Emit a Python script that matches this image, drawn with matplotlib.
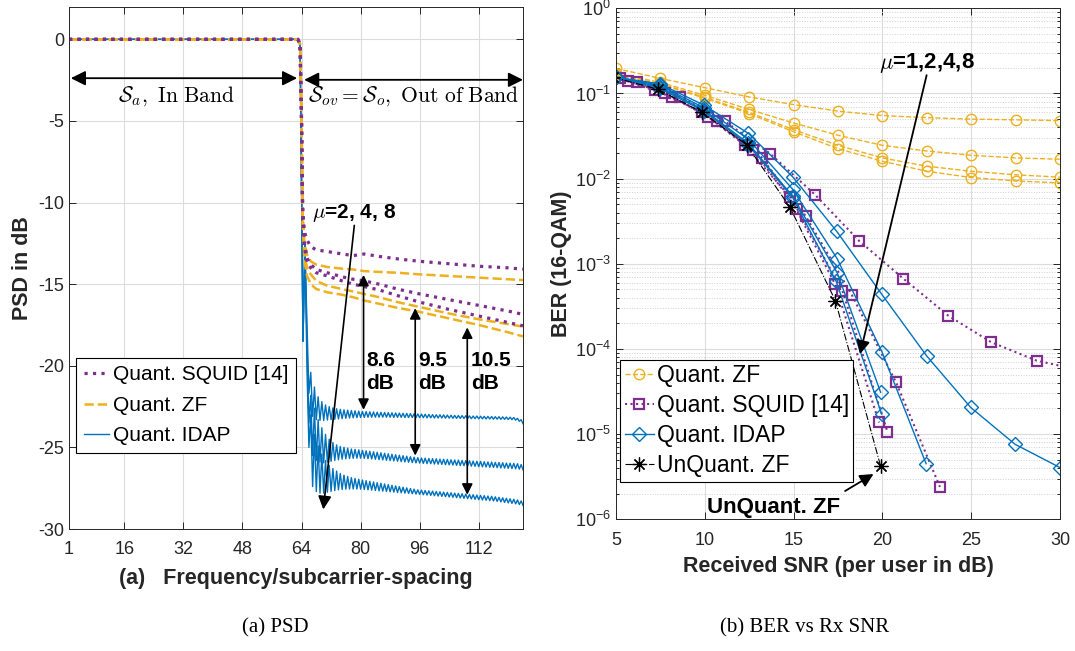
import matplotlib
matplotlib.use("Agg")
import matplotlib.pyplot as plt
import numpy as np

plt.rcParams["font.family"] = ["Liberation Sans", "DejaVu Sans"]
plt.rcParams["mathtext.fontset"] = "custom"
plt.rcParams["mathtext.rm"] = "Liberation Sans"
plt.rcParams["mathtext.it"] = "Liberation Sans:italic"
plt.rcParams["mathtext.bf"] = "Liberation Sans:bold"
plt.rcParams["axes.unicode_minus"] = False

BLUE, ORANGE, PURPLE, AXC = "#0072BD", "#EDB120", "#7E2F8E", "#262626"

# ---------------- (a) PSD data ----------------
# shared in-band / roll-off part of the IDAP curves
idap_head_x = [1, 63, 63.6, 64.0, 64.4, 64.9]
idap_head_y = [0, 0, -0.2, -9.0, -18.5, -12.5]
# ripple: peaks at x = 65.5, 66.5, ..., 123.5 ; troughs at x = 66, 67, ..., 124
idap_peak = {
    2: [-17.6, -20.4, -21.3, -21.9, -22.2, -22.4, -22.5, -22.58, -22.63, -22.67,
        -22.7, -22.72, -22.74, -22.76, -22.78, -22.8, -22.81, -22.82, -22.83, -22.84,
        -22.85, -22.86, -22.87, -22.88, -22.89, -22.9, -22.91, -22.92, -22.93, -22.94,
        -22.95, -22.96, -22.97, -22.98, -22.99, -23.0, -23.0, -23.01, -23.02, -23.03,
        -23.04, -23.05, -23.05, -23.06, -23.07, -23.08, -23.08, -23.09, -23.1, -23.1,
        -23.11, -23.12, -23.12, -23.13, -23.14, -23.15, -23.17, -23.22, -23.3],
    4: [-19.0, -21.8, -22.6, -23.3, -23.8, -24.2, -24.5, -24.7, -24.85, -24.95,
        -25.0, -25.05, -25.1, -25.12, -25.15, -25.18, -25.21, -25.24, -25.27, -25.3,
        -25.33, -25.36, -25.39, -25.42, -25.45, -25.48, -25.51, -25.54, -25.57, -25.6,
        -25.63, -25.65, -25.66, -25.68, -25.69, -25.7, -25.72, -25.73, -25.74, -25.76,
        -25.77, -25.78, -25.8, -25.81, -25.82, -25.84, -25.85, -25.86, -25.88, -25.89,
        -25.9, -25.92, -25.93, -25.94, -25.96, -25.97, -25.98, -26.0, -26.05],
    8: [-20.5, -23.0, -24.2, -24.9, -25.4, -25.8, -26.1, -26.3, -26.45, -26.6,
        -26.7, -26.78, -26.85, -26.9, -26.95, -27.0, -27.04, -27.08, -27.12, -27.16,
        -27.2, -27.24, -27.28, -27.32, -27.36, -27.4, -27.44, -27.48, -27.52, -27.56,
        -27.6, -27.62, -27.64, -27.66, -27.68, -27.7, -27.72, -27.74, -27.76, -27.78,
        -27.8, -27.82, -27.84, -27.86, -27.88, -27.9, -27.92, -27.94, -27.96, -27.98,
        -28.0, -28.03, -28.06, -28.09, -28.12, -28.15, -28.18, -28.22, -28.28],
}
idap_trough = {
    2: [-21.7, -23.1, -23.3, -23.35, -23.35, -23.32, -23.3, -23.28, -23.26, -23.24,
        -23.22, -23.2, -23.19, -23.18, -23.17, -23.16, -23.15, -23.15, -23.15, -23.15,
        -23.15, -23.15, -23.15, -23.16, -23.16, -23.16, -23.17, -23.17, -23.17, -23.18,
        -23.18, -23.18, -23.19, -23.19, -23.2, -23.2, -23.2, -23.21, -23.21, -23.22,
        -23.22, -23.22, -23.23, -23.23, -23.24, -23.24, -23.25, -23.25, -23.26, -23.26,
        -23.27, -23.27, -23.28, -23.28, -23.29, -23.3, -23.33, -23.4, -23.55],
    4: [-23.5, -25.5, -25.8, -25.9, -25.95, -25.9, -25.85, -25.8, -25.76, -25.72,
        -25.7, -25.68, -25.67, -25.66, -25.66, -25.67, -25.69, -25.71, -25.73, -25.75,
        -25.77, -25.79, -25.81, -25.83, -25.85, -25.87, -25.89, -25.91, -25.93, -25.95,
        -25.96, -25.98, -25.99, -26.0, -26.02, -26.03, -26.04, -26.06, -26.07, -26.08,
        -26.1, -26.11, -26.12, -26.14, -26.15, -26.16, -26.18, -26.19, -26.2, -26.22,
        -26.23, -26.24, -26.26, -26.27, -26.28, -26.3, -26.31, -26.33, -26.38],
    8: [-25.0, -27.4, -27.7, -27.8, -27.8, -27.75, -27.7, -27.65, -27.6, -27.58,
        -27.56, -27.55, -27.55, -27.55, -27.56, -27.58, -27.6, -27.62, -27.64, -27.66,
        -27.68, -27.7, -27.72, -27.74, -27.76, -27.78, -27.8, -27.82, -27.84, -27.86,
        -27.88, -27.9, -27.92, -27.94, -27.96, -27.98, -28.0, -28.02, -28.04, -28.06,
        -28.08, -28.1, -28.12, -28.14, -28.16, -28.18, -28.2, -28.22, -28.24, -28.26,
        -28.28, -28.31, -28.34, -28.37, -28.4, -28.43, -28.46, -28.5, -28.56],
}

psd_x = [1, 63, 63.6, 64.0, 64.3, 64.8, 65.5, 66.5, 68, 71, 75, 78, 81, 85, 90, 96, 104, 112, 120, 124]
psd_zf = {
    2: [0, 0, -0.3, -5, -10.8, -12.5, -13.2, -13.6, -13.8, -13.95, -14.05, -14.1, -14.2, -14.25,
        -14.3, -14.4, -14.5, -14.6, -14.7, -14.75],
    4: [0, 0, -0.3, -5, -11.0, -13.2, -14.0, -14.4, -14.8, -15.1, -15.3, -15.45, -15.6, -15.8,
        -16.1, -16.4, -16.8, -17.15, -17.45, -17.6],
    8: [0, 0, -0.3, -5, -11.1, -13.6, -14.5, -15.0, -15.3, -15.5, -15.65, -15.8, -16.0, -16.2,
        -16.45, -16.7, -17.1, -17.5, -17.95, -18.2],
}
psd_squid = {
    2: [0, 0, -0.3, -5, -10.4, -11.8, -12.3, -12.7, -12.9, -13.0, -13.15, -13.25, -13.15, -13.3,
        -13.45, -13.6, -13.75, -13.9, -14.0, -14.08],
    4: [0, 0, -0.3, -5, -10.6, -12.5, -13.4, -13.8, -14.1, -14.3, -14.55, -14.7, -14.8, -15.0,
        -15.3, -15.6, -15.95, -16.3, -16.65, -16.85],
    8: [0, 0, -0.3, -5, -10.7, -12.8, -13.6, -14.0, -14.3, -14.5, -14.8, -15.0, -15.15, -15.35,
        -15.7, -16.1, -16.55, -16.95, -17.35, -17.55],
}

# ---------------- (b) BER data ----------------
zf_snr = [5, 7.5, 10, 12.5, 15, 17.5, 20, 22.5, 25, 27.5, 30]
zf_ber = {
    1: [0.197, 0.15, 0.117, 0.091, 0.074, 0.062, 0.055, 0.052, 0.050, 0.049, 0.048],
    2: [0.17, 0.135, 0.095, 0.065, 0.045, 0.0323, 0.0246, 0.0211, 0.0188, 0.0175, 0.0169],
    4: [0.165, 0.13, 0.09, 0.06, 0.0375, 0.0246, 0.0175, 0.014, 0.0122, 0.0111, 0.0104],
    8: [0.163, 0.128, 0.088, 0.058, 0.0355, 0.0225, 0.016, 0.0122, 0.0103, 0.0094, 0.0089],
}
squid_snr = {
    1: [6.16, 8.6, 11.14, 13.67, 16.2, 18.7, 21.18, 23.71, 26.13, 28.68, 31.2],
    2: [5.65, 8.13, 10.67, 13.2, 15.69, 18.27, 20.77, 23.24],
    4: [5.2, 7.76, 10.2, 12.73, 15.2, 17.75, 20.28],
    8: [4.7, 7.2, 9.83, 12.26, 14.8, 17.33, 19.81],
}
squid_ber = {
    1: [0.137, 0.092, 0.047, 0.0197, 0.0065, 0.00185, 0.00067, 0.000246, 0.00012, 7.3e-5, 5.6e-5],
    2: [0.14, 0.091, 0.047, 0.0177, 0.0036, 0.000435, 4.05e-5, 2.4e-6],
    4: [0.15, 0.102, 0.053, 0.0215, 0.0044, 0.00048, 1.07e-5],
    8: [0.16, 0.111, 0.0608, 0.0246, 0.0061, 0.00058, 1.37e-5],
}
idap_snr = {
    1: [5.0, 7.45, 9.95, 12.45, 14.95, 17.43, 19.96, 22.49, 24.97, 27.47, 30.0],
    2: [5.0, 7.45, 9.95, 12.45, 14.95, 17.46, 19.98, 22.46],
    4: [5.0, 7.45, 9.95, 12.45, 14.95, 17.46, 19.9],
    8: [5.0, 7.45, 9.95, 12.45, 14.95, 17.4, 19.96],
}
idap_ber = {
    1: [0.155, 0.13, 0.073, 0.034, 0.0105, 0.0024, 0.00044, 8.3e-5, 2.06e-5, 7.6e-6, 4.05e-6],
    2: [0.155, 0.125, 0.068, 0.029, 0.0075, 0.00114, 9.2e-5, 4.5e-6],
    4: [0.155, 0.12, 0.064, 0.026, 0.0062, 0.00078, 3.1e-5],
    8: [0.155, 0.115, 0.062, 0.025, 0.006, 0.00062, 1.72e-5],
}
unq_snr = [4.85, 7.35, 9.85, 12.35, 14.8, 17.35, 19.9]
unq_ber = [0.155, 0.112, 0.06, 0.025, 0.0046, 0.00037, 4.2e-6]


def style_axes(ax, xpad):
    for s in ax.spines.values():
        s.set_color(AXC)
        s.set_linewidth(0.7)
    ax.tick_params(which="both", direction="in", top=True, right=True,
                   colors=AXC, labelsize=13, length=5, width=0.7)
    ax.tick_params(axis="x", pad=xpad)
    ax.tick_params(which="minor", length=2.5)
    ax.grid(True, which="major", color="#dcdcdc", lw=0.8)
    ax.set_axisbelow(True)


fig = plt.figure(figsize=(10.75, 6.51), dpi=100)

# ---------------- left: PSD ----------------
ax = fig.add_axes([69 / 1075, 1 - 529 / 651, 454 / 1075, 522.3 / 651])
style_axes(ax, 8.5)
osc_x = np.arange(65.5, 124.01, 0.5)
for mu in (2, 4, 8):
    osc_y = np.empty(osc_x.size)
    osc_y[0::2] = idap_peak[mu]
    osc_y[1::2] = idap_trough[mu]
    l_idap, = ax.plot(np.r_[idap_head_x, osc_x], np.r_[idap_head_y, osc_y],
                      color=BLUE, lw=1.0)
for mu in (2, 4, 8):
    l_zf, = ax.plot(psd_x, psd_zf[mu], color=ORANGE, ls="--", lw=1.8)
for mu in (2, 4, 8):
    l_sq, = ax.plot(psd_x, psd_squid[mu], color=PURPLE, ls=":", lw=2.3)

ax.set_xlim(1, 124)
ax.set_ylim(-30, 2)
ax.set_xticks([1, 16, 32, 48, 64, 80, 96, 112])
ax.set_yticks([0, -5, -10, -15, -20, -25, -30])
ax.set_xlabel("(a)   Frequency/subcarrier-spacing", fontsize=15.5,
              fontweight="bold", color=AXC, labelpad=7)
ax.set_ylabel("PSD in dB", fontsize=15.5, fontweight="bold", color=AXC, labelpad=4)

leg = ax.legend([l_sq, l_zf, l_idap], ["Quant. SQUID [14]", "Quant. ZF", "Quant. IDAP"],
                loc="upper left", bbox_to_anchor=(0.0165, 0.327), borderaxespad=0,
                fontsize=15, handlelength=1.2, handletextpad=0.2, labelspacing=0.55,
                borderpad=0.35, fancybox=False, framealpha=1, edgecolor="k")
leg.get_frame().set_linewidth(0.8)

arr = dict(arrowstyle="<|-|>", color="k", lw=1.3, mutation_scale=22,
           shrinkA=0, shrinkB=0)
ax.annotate("", xy=(1.5, -2.38), xytext=(62.8, -2.38), arrowprops=arr)
ax.annotate("", xy=(64.7, -2.48), xytext=(124, -2.48), arrowprops=arr, annotation_clip=False)
ax.text(30.2, -3.5, r"$\mathcal{S}_a\mathrm{,\ In\ Band}$", ha="center", va="center",
        fontsize=15.5, math_fontfamily="cm")
ax.text(94.5, -3.5, r"$\mathcal{S}_{ov}=\mathcal{S}_o\mathrm{,\ Out\ of\ Band}$",
        ha="center", va="center", fontsize=15.5, math_fontfamily="cm")

ax.text(66.8, -10.65, r"$\mu$=2, 4, 8", ha="left", va="center", fontsize=15,
        fontweight="bold", math_fontfamily="cm")
ax.annotate("", xy=(69.9, -28.8), xytext=(78.3, -11.4),
            arrowprops=dict(arrowstyle="-|>", color="k", lw=1.2, mutation_scale=20,
                            shrinkA=0, shrinkB=0))
darr = dict(arrowstyle="<|-|>", color="k", lw=1.2, mutation_scale=16, shrinkA=0, shrinkB=0)
for xa, top, bot, xt, lab in [(80.8, -14.43, -22.7, 81.5, "8.6\ndB"),
                              (94.8, -16.47, -25.5, 95.5, "9.5\ndB"),
                              (108.9, -17.65, -27.9, 109.9, "10.5\ndB")]:
    ax.annotate("", xy=(xa, top), xytext=(xa, bot), arrowprops=darr)
    ax.text(xt, -20.4, lab, ha="left", va="center", fontsize=15,
            fontweight="bold", linespacing=1.25)

# ---------------- right: BER ----------------
ax2 = fig.add_axes([616 / 1075, 1 - 519.3 / 651, 444 / 1075, 511 / 651])
style_axes(ax2, 9)
ax2.set_yscale("log")
ax2.grid(True, which="minor", axis="y", color="#d0d0d0", lw=0.7, ls=":")
mk = dict(mfc="none", mew=1.0)
for mu in (1, 2, 4, 8):
    h_zf, = ax2.plot(zf_snr, zf_ber[mu], color=ORANGE, ls="--", lw=1.0,
                     marker="o", ms=7.5, **mk)
for mu in (1, 2, 4, 8):
    h_sq, = ax2.plot(squid_snr[mu], squid_ber[mu], color=PURPLE, ls=":", lw=1.5,
                     marker="s", ms=7.5, mew=1.6, mfc="none")
for mu in (1, 2, 4, 8):
    h_id, = ax2.plot(idap_snr[mu], idap_ber[mu], color=BLUE, ls="-", lw=1.0,
                     marker="D", ms=7.5, **mk)
h_un, = ax2.plot(unq_snr, unq_ber, color="k", ls="-.", lw=0.8,
                 marker=(8, 2, 0), ms=10, mew=0.9)

ax2.set_xlim(5, 30)
ax2.set_ylim(1e-6, 1)
ax2.set_xticks([5, 10, 15, 20, 25, 30])
ax2.set_xlabel("Received SNR (per user in dB)", fontsize=15.5, fontweight="bold",
               color=AXC, labelpad=5)
ax2.set_ylabel("BER (16-QAM)", fontsize=15.5, fontweight="bold", color=AXC, labelpad=2)

leg2 = ax2.legend([h_zf, h_sq, h_id, h_un],
                  ["Quant. ZF", "Quant. SQUID [14]", "Quant. IDAP", "UnQuant. ZF"],
                  loc="upper left", bbox_to_anchor=(0.009, 0.312), borderaxespad=0,
                  fontsize=16.5, handlelength=1.3, handletextpad=0.1, labelspacing=0.3,
                  borderpad=0.2, fancybox=False, framealpha=1, edgecolor="k")
leg2.get_frame().set_linewidth(0.8)

ax2.text(22.5, 0.225, r"$\mu$=1,2,4,8", ha="center", va="center", fontsize=16,
         fontweight="bold", math_fontfamily="cm")
ax2.annotate("", xy=(18.74, 8.7e-5), xytext=(22.49, 0.164),
             arrowprops=dict(arrowstyle="-|>", color="k", lw=1.3, mutation_scale=20,
                             shrinkA=0, shrinkB=0))
ax2.text(13.88, 1.37e-6, "UnQuant. ZF", ha="center", va="center", fontsize=16,
         fontweight="bold")
ax2.annotate("", xy=(19.5, 3.4e-6), xytext=(17.9, 2.15e-6),
             arrowprops=dict(arrowstyle="-|>", color="k", lw=1.3, mutation_scale=20,
                             shrinkA=0, shrinkB=0))

# ---------------- captions ----------------
fig.text(275 / 1075, 1 - 628 / 651, "(a) PSD", ha="center", va="center",
         family="Liberation Serif", fontsize=15)
fig.text(805 / 1075, 1 - 628 / 651, "(b) BER vs Rx SNR", ha="center", va="center",
         family="Liberation Serif", fontsize=15)

fig.savefig("out.png", dpi=100)
